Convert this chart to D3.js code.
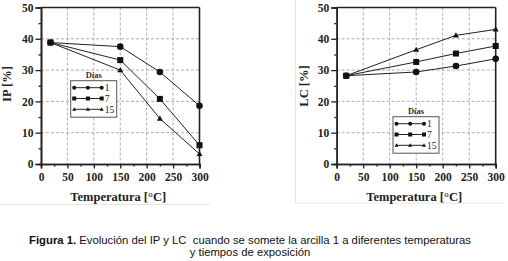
<!DOCTYPE html>
<html>
<head>
<meta charset="utf-8">
<script src="https://cdn.jsdelivr.net/npm/d3@7"></script>
<style>
  body { margin: 0; background: #fff; }
  svg { display: block; }
</style>
</head>
<body>
<svg width="508" height="261"></svg>
<script>
// temperatures (°C) and days of exposure
const temps = [18, 150, 225, 300];
const days = ["1", "7", "15"];

// IP [%] per series (1, 7, 15 days)
const ip1 = [38.8, 37.5, 29.4, 18.6];
const ip7 = [38.8, 33.2, 20.8, 6.0];
const ip15 = [38.8, 30.0, 14.5, 3.2];

// LC [%] per series
const lc1 = [28.2, 29.4, 31.3, 33.6];
const lc7 = [28.2, 32.6, 35.3, 37.7];
const lc15 = [28.2, 36.5, 41.1, 43.0];

const xTicks = [0, 50, 100, 150, 200, 250, 300];
const yTicks = [0, 10, 20, 30, 40, 50];

const svg = d3.select("svg");
const serif = "'Liberation Serif', 'Times New Roman', serif";
const shapes = ["circle", "square", "triangle"];

// draws a marker of the given shape at 0,0 inside g
function marker(g, shape, s) {
  if (shape === "circle") {
    g.append("circle").attr("r", s).attr("fill", "#111");
  } else if (shape === "square") {
    g.append("rect").attr("x", -s).attr("y", -s)
      .attr("width", 2 * s).attr("height", 2 * s).attr("fill", "#111");
  } else {
    const h = s * 1.7;
    g.append("path")
      .attr("d", `M0,${-h * 0.6}L${s},${h * 0.4}L${-s},${h * 0.4}Z`)
      .attr("fill", "#111");
  }
}

function panel(opt) {
  const x = d3.scaleLinear().domain([0, 300]).range([opt.left, opt.right]);
  const y = d3.scaleLinear().domain([0, 50]).range([opt.bottom, opt.top]);
  const g = svg.append("g");

  // faint image border of the original figure
  opt.border.forEach(b => {
    g.append("line").attr("x1", b[0]).attr("y1", b[1]).attr("x2", b[2]).attr("y2", b[3])
      .attr("stroke", "#e6e6e6").attr("stroke-width", 1);
  });

  // dashed grid
  g.selectAll(".gx").data(xTicks.slice(1, -1)).join("line")
    .attr("x1", d => x(d)).attr("x2", d => x(d))
    .attr("y1", opt.top).attr("y2", opt.bottom)
    .attr("stroke", "#9a9a9a").attr("stroke-width", 0.8).attr("stroke-dasharray", "3,2");
  g.selectAll(".gy").data(yTicks.slice(1, -1)).join("line")
    .attr("y1", d => y(d)).attr("y2", d => y(d))
    .attr("x1", opt.left).attr("x2", opt.right)
    .attr("stroke", "#9a9a9a").attr("stroke-width", 0.8).attr("stroke-dasharray", "3,2");

  // axes with minor ticks
  const xMinor = g.append("g").attr("transform", `translate(0,${opt.bottom})`)
    .call(d3.axisBottom(x).tickValues(d3.range(25, 300, 50)).tickSize(2.5).tickFormat(""));
  const yMinor = g.append("g").attr("transform", `translate(${opt.left},0)`)
    .call(d3.axisLeft(y).tickValues(d3.range(5, 50, 10)).tickSize(2.5).tickFormat(""));
  const xAxis = g.append("g").attr("transform", `translate(0,${opt.bottom})`)
    .call(d3.axisBottom(x).tickValues(xTicks).tickSize(4.5).tickPadding(4));
  const yAxis = g.append("g").attr("transform", `translate(${opt.left},0)`)
    .call(d3.axisLeft(y).tickValues(yTicks).tickSize(5.5).tickPadding(2));
  [xMinor, yMinor, xAxis, yAxis].forEach(a => {
    a.selectAll("path").attr("stroke", "#222").attr("stroke-width", 1.6);
    a.selectAll("line").attr("stroke", "#222").attr("stroke-width", 1.3);
    a.selectAll("text").attr("font-family", serif).attr("font-weight", "bold")
      .attr("font-size", 11.5).attr("fill", "#222");
  });

  // frame top and right
  g.append("line").attr("x1", opt.left).attr("x2", opt.right)
    .attr("y1", opt.top).attr("y2", opt.top).attr("stroke", "#222").attr("stroke-width", 1.4);
  g.append("line").attr("x1", opt.right).attr("x2", opt.right)
    .attr("y1", opt.top).attr("y2", opt.bottom).attr("stroke", "#222").attr("stroke-width", 1.6);

  // axis titles
  g.append("text").attr("x", (opt.left + opt.right) / 2 - 2).attr("y", 201)
    .attr("text-anchor", "middle").attr("font-family", serif).attr("font-weight", "bold")
    .attr("font-size", 12.5).attr("fill", "#222").text("Temperatura [°C]");
  g.append("text")
    .attr("transform", `translate(${opt.ytx},${opt.yty}) rotate(-90)`)
    .attr("text-anchor", "middle").attr("font-family", serif).attr("font-weight", "bold")
    .attr("font-size", 12.5).attr("fill", "#222").text(opt.ytitle);

  // series
  const line = d3.line().x((d, i) => x(temps[i])).y(d => y(d));
  opt.series.forEach((s, k) => {
    g.append("path").datum(s).attr("d", line)
      .attr("fill", "none").attr("stroke", "#222").attr("stroke-width", 1);
  });
  opt.series.forEach((s, k) => {
    s.forEach((v, i) => {
      const m = g.append("g").attr("transform", `translate(${x(temps[i])},${y(v)})`);
      marker(m, shapes[k], k === 0 ? 3.3 : 3);
    });
  });

  // legend
  const L = opt.legend;
  g.append("text").attr("x", L.x + 23).attr("y", L.y - 3)
    .attr("text-anchor", "middle").attr("font-family", serif).attr("font-weight", "bold")
    .attr("font-size", 8.5).attr("fill", "#333").text("Días");
  g.append("rect").attr("x", L.x).attr("y", L.y).attr("width", 46).attr("height", 36.5)
    .attr("fill", "#fff").attr("stroke", "#555").attr("stroke-width", 1);
  days.forEach((d, k) => {
    const ry = L.y + 7 + k * 10.8;
    g.append("line").attr("x1", L.x + 3.5).attr("x2", L.x + 31)
      .attr("y1", ry).attr("y2", ry).attr("stroke", "#222").attr("stroke-width", 1);
    [3.5, 17.2, 31].forEach(dx => {
      const m = g.append("g").attr("transform", `translate(${L.x + dx},${ry})`);
      marker(m, shapes[k], 2);
    });
    g.append("text").attr("x", L.x + 34).attr("y", ry + 3.5)
      .attr("font-family", serif).attr("font-size", 9.5).attr("fill", "#222").text(d);
  });
}

panel({
  left: 41, right: 199.5, top: 7.5, bottom: 164,
  ytitle: "IP [%]", ytx: 11, yty: 84,
  series: [ip1, ip7, ip15],
  legend: { x: 70.7, y: 80.7 },
  border: [[0, 204.5, 210, 204.5]]
});

panel({
  left: 336.7, right: 495.7, top: 7.5, bottom: 164,
  ytitle: "LC [%]", ytx: 308, yty: 86,
  series: [lc1, lc7, lc15],
  legend: { x: 393, y: 116.7 },
  border: [[295.5, 0, 295.5, 203], [295.5, 203, 504, 203]]
});

// caption
const capFont = "'Liberation Sans', Arial, sans-serif";
const cap = svg.append("text").attr("x", 250).attr("y", 243.5)
  .attr("text-anchor", "middle").attr("font-family", capFont)
  .attr("font-size", 11.3).attr("fill", "#111").style("white-space", "pre");
cap.append("tspan").attr("font-weight", "bold").text("Figura 1.");
cap.append("tspan").text(" Evolución del IP y LC  cuando se somete la arcilla 1 a diferentes temperaturas");
svg.append("text").attr("x", 250).attr("y", 256)
  .attr("text-anchor", "middle").attr("font-family", capFont)
  .attr("font-size", 11.3).attr("fill", "#111").text("y tiempos de exposición");
</script>
</body>
</html>
